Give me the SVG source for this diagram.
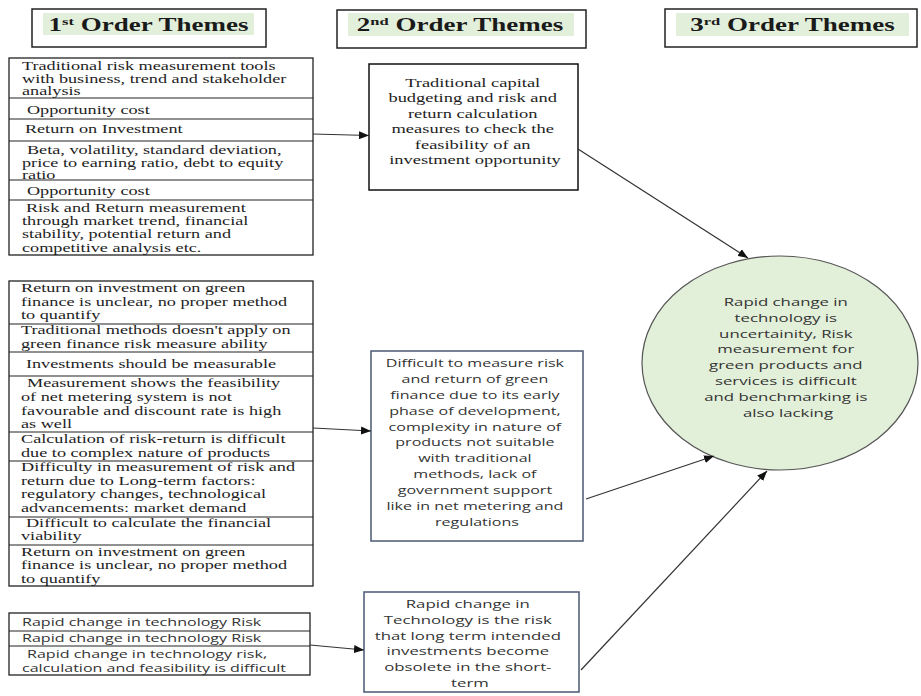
<svg xmlns="http://www.w3.org/2000/svg" width="921" height="696" viewBox="0 0 921 696">
  <style>
    .bg { fill: #ffffff; }
    .hbox { fill: #ffffff; stroke: #222222; stroke-width: 1.5; }
    .hfill { fill: #e2efda; }
    .htxt { font-family: "Liberation Serif", "Times New Roman", serif; font-weight: bold; font-size: 18px; fill: #1a1a1a; text-anchor: middle; transform: scaleX(1.5); }
    .sup { font-size: 11px; }
    .tbl { fill: #ffffff; stroke: #222222; stroke-width: 1.3; }
    .div { stroke: #222222; stroke-width: 1; }
    .ser { font-family: "Liberation Serif", "Times New Roman", serif; font-size: 12.5px; fill: #1e1e1e; transform: scaleX(1.456); }
    .serc { font-family: "Liberation Serif", "Times New Roman", serif; font-size: 13px; fill: #1e1e1e; text-anchor: middle; transform: scaleX(1.42); }
    .sans { font-family: "Open Sans", "Noto Sans", sans-serif; font-size: 10.6px; fill: #333333; transform: scaleX(1.515); }
    .sansc { font-family: "Open Sans", "Noto Sans", sans-serif; font-size: 11px; fill: #333333; text-anchor: middle; transform: scaleX(1.46); }
    .sansc2 { font-family: "Open Sans", "Noto Sans", sans-serif; font-size: 11.5px; fill: #333333; text-anchor: middle; transform: scaleX(1.46); }
    .box2a { fill: #ffffff; stroke: #111111; stroke-width: 1.5; }
    .box2 { fill: #ffffff; stroke: #4a5874; stroke-width: 1.5; }
    .theme3 { fill: #e2efd9; stroke: #555555; stroke-width: 1.2; }
    .edge { fill: none; stroke: #333333; stroke-width: 1.2; marker-end: url(#arrow); }
  </style>
  <defs>
    <marker id="arrow" markerUnits="userSpaceOnUse" markerWidth="10" markerHeight="8" refX="10" refY="4" orient="auto">
      <path d="M0,0 L10,4 L0,8 z" fill="#111111"/>
    </marker>
  </defs>

  <rect class="bg" x="0" y="0" width="921" height="696"/>

  <!-- column headings -->
  <g id="heading-1">
    <rect class="hbox" x="32" y="9" width="234" height="38"/>
    <rect class="hfill" x="43" y="13" width="211" height="22"/>
    <g transform="translate(148.5 0)">
      <text class="htxt" x="0" y="31">1<tspan class="sup" dy="-6">st</tspan><tspan dy="6"> Order Themes</tspan></text>
    </g>
  </g>
  <g id="heading-2">
    <rect class="hbox" x="337" y="10" width="249" height="38"/>
    <rect class="hfill" x="348" y="13" width="226" height="23"/>
    <g transform="translate(460 0)">
      <text class="htxt" x="0" y="31">2<tspan class="sup" dy="-6">nd</tspan><tspan dy="6"> Order Themes</tspan></text>
    </g>
  </g>
  <g id="heading-3">
    <rect class="hbox" x="665" y="9" width="252" height="38"/>
    <rect class="hfill" x="676" y="13" width="233" height="23"/>
    <g transform="translate(792.5 0)">
      <text class="htxt" x="0" y="31">3<tspan class="sup" dy="-6">rd</tspan><tspan dy="6"> Order Themes</tspan></text>
    </g>
  </g>

  <!-- first order themes: traditional measurement -->
  <g id="first-order-traditional">
    <rect class="tbl" x="9" y="58" width="304" height="197"/>
    <line class="div" x1="9" y1="98" x2="313" y2="98"/>
    <line class="div" x1="9" y1="119" x2="313" y2="119"/>
    <line class="div" x1="9" y1="141" x2="313" y2="141"/>
    <line class="div" x1="9" y1="180" x2="313" y2="180"/>
    <line class="div" x1="9" y1="200" x2="313" y2="200"/>
    <g transform="translate(22 0)">
      <text class="ser">
        <tspan x="0" y="70">Traditional risk measurement tools</tspan>
        <tspan x="0" y="83">with business, trend and stakeholder</tspan>
        <tspan x="0" y="95.5">analysis</tspan>
        <tspan x="3.4" y="114">Opportunity cost</tspan>
        <tspan x="2" y="133">Return on Investment</tspan>
        <tspan x="3.4" y="154">Beta, volatility, standard deviation,</tspan>
        <tspan x="0" y="167">price to earning ratio, debt to equity</tspan>
        <tspan x="0" y="179">ratio</tspan>
        <tspan x="3.4" y="195">Opportunity cost</tspan>
        <tspan x="2.7" y="212">Risk and Return measurement</tspan>
        <tspan x="0" y="225">through market trend, financial</tspan>
        <tspan x="0" y="238.5">stability, potential return and</tspan>
        <tspan x="0" y="252">competitive analysis etc.</tspan>
      </text>
    </g>
  </g>

  <!-- first order themes: green finance measurement -->
  <g id="first-order-green">
    <rect class="tbl" x="9" y="281" width="304" height="305"/>
    <line class="div" x1="9" y1="324" x2="313" y2="324"/>
    <line class="div" x1="9" y1="352" x2="313" y2="352"/>
    <line class="div" x1="9" y1="376" x2="313" y2="376"/>
    <line class="div" x1="9" y1="432" x2="313" y2="432"/>
    <line class="div" x1="9" y1="461" x2="313" y2="461"/>
    <line class="div" x1="9" y1="517" x2="313" y2="517"/>
    <line class="div" x1="9" y1="545" x2="313" y2="545"/>
    <g transform="translate(21 0)">
      <text class="ser">
        <tspan x="0" y="292">Return on investment on green</tspan>
        <tspan x="0" y="306">finance is unclear, no proper method</tspan>
        <tspan x="0" y="319">to quantify</tspan>
        <tspan x="0" y="334">Traditional methods doesn't apply on</tspan>
        <tspan x="0" y="348">green finance risk measure ability</tspan>
        <tspan x="3.4" y="368">Investments should be measurable</tspan>
        <tspan x="4.1" y="387">Measurement shows the feasibility</tspan>
        <tspan x="0" y="401">of net metering system is not</tspan>
        <tspan x="0" y="415">favourable and discount rate is high</tspan>
        <tspan x="0" y="428.5">as well</tspan>
        <tspan x="0" y="443">Calculation of risk-return is difficult</tspan>
        <tspan x="0" y="457">due to complex nature of products</tspan>
        <tspan x="0" y="471">Difficulty in measurement of risk and</tspan>
        <tspan x="0" y="485">return due to Long-term factors:</tspan>
        <tspan x="0" y="498.5">regulatory changes, technological</tspan>
        <tspan x="0" y="512">advancements: market demand</tspan>
        <tspan x="3.4" y="527">Difficult to calculate the financial</tspan>
        <tspan x="0" y="540.5">viability</tspan>
        <tspan x="0" y="556">Return on investment on green</tspan>
        <tspan x="0" y="569.5">finance is unclear, no proper method</tspan>
        <tspan x="0" y="583">to quantify</tspan>
      </text>
    </g>
  </g>

  <!-- first order themes: technology risk -->
  <g id="first-order-technology">
    <rect class="tbl" x="9" y="613" width="301" height="62"/>
    <line class="div" x1="9" y1="631" x2="310" y2="631"/>
    <line class="div" x1="9" y1="646" x2="310" y2="646"/>
    <g transform="translate(22 0)">
      <text class="sans">
        <tspan x="0" y="626">Rapid change in technology Risk</tspan>
        <tspan x="0" y="642.5">Rapid change in technology Risk</tspan>
        <tspan x="3.3" y="658.5">Rapid change in technology risk,</tspan>
        <tspan x="0" y="672">calculation and feasibility is difficult</tspan>
      </text>
    </g>
  </g>

  <!-- second order themes -->
  <g id="second-order-capital">
    <rect class="box2a" x="369" y="64" width="209" height="126"/>
    <g transform="translate(475 0)">
      <text class="serc">
        <tspan x="0" y="87">Traditional capital</tspan>
        <tspan x="0" y="102.5">budgeting and risk and</tspan>
        <tspan x="0" y="118">return calculation</tspan>
        <tspan x="0" y="133.5">measures to check the</tspan>
        <tspan x="0" y="149">feasibility of an</tspan>
        <tspan x="0" y="164.5">investment opportunity</tspan>
      </text>
    </g>
  </g>

  <g id="second-order-green">
    <rect class="box2" x="371" y="351" width="212" height="190"/>
    <g transform="translate(477 0)">
      <text class="sansc">
        <tspan x="0" y="367">Difficult to measure risk</tspan>
        <tspan x="0" y="382.9">and return of green</tspan>
        <tspan x="0" y="398.8">finance due to its early</tspan>
        <tspan x="0" y="414.7">phase of development,</tspan>
        <tspan x="0" y="430.6">complexity in nature of</tspan>
        <tspan x="0" y="446.5">products not suitable</tspan>
        <tspan x="0" y="462.4">with traditional</tspan>
        <tspan x="0" y="478.3">methods, lack of</tspan>
        <tspan x="0" y="494.2">government support</tspan>
        <tspan x="0" y="510.1">like in net metering and</tspan>
        <tspan x="0" y="526">regulations</tspan>
      </text>
    </g>
  </g>

  <g id="second-order-technology">
    <rect class="box2" x="364" y="592" width="215" height="100"/>
    <g transform="translate(470 0)">
      <text class="sansc2">
        <tspan x="0" y="608">Rapid change in</tspan>
        <tspan x="0" y="623.8">Technology is the risk</tspan>
        <tspan x="0" y="639.6">that long term intended</tspan>
        <tspan x="0" y="655.4">investments become</tspan>
        <tspan x="0" y="671.2">obsolete in the short-</tspan>
        <tspan x="0" y="687">term</tspan>
      </text>
    </g>
  </g>

  <!-- third order theme -->
  <g id="third-order">
    <ellipse class="theme3" cx="780" cy="363" rx="138" ry="107"/>
    <g transform="translate(788 0)">
      <text class="sansc2">
        <tspan x="0" y="306">Rapid change in</tspan>
        <tspan x="0" y="321.8">technology is</tspan>
        <tspan x="0" y="337.6">uncertainity, Risk</tspan>
        <tspan x="0" y="353.4">measurement for</tspan>
        <tspan x="0" y="369.2">green products and</tspan>
        <tspan x="0" y="385">services is difficult</tspan>
        <tspan x="0" y="400.8">and benchmarking is</tspan>
        <tspan x="0" y="416.6">also lacking</tspan>
      </text>
    </g>
  </g>

  <!-- connectors -->
  <g id="connectors">
    <line class="edge" x1="313" y1="134" x2="369" y2="135.5"/>
    <line class="edge" x1="313" y1="428" x2="371" y2="431"/>
    <line class="edge" x1="310" y1="645" x2="364" y2="650"/>
    <line class="edge" x1="578" y1="149" x2="748" y2="258"/>
    <line class="edge" x1="586" y1="499" x2="714" y2="456"/>
    <line class="edge" x1="581" y1="670" x2="767" y2="471"/>
  </g>
</svg>
